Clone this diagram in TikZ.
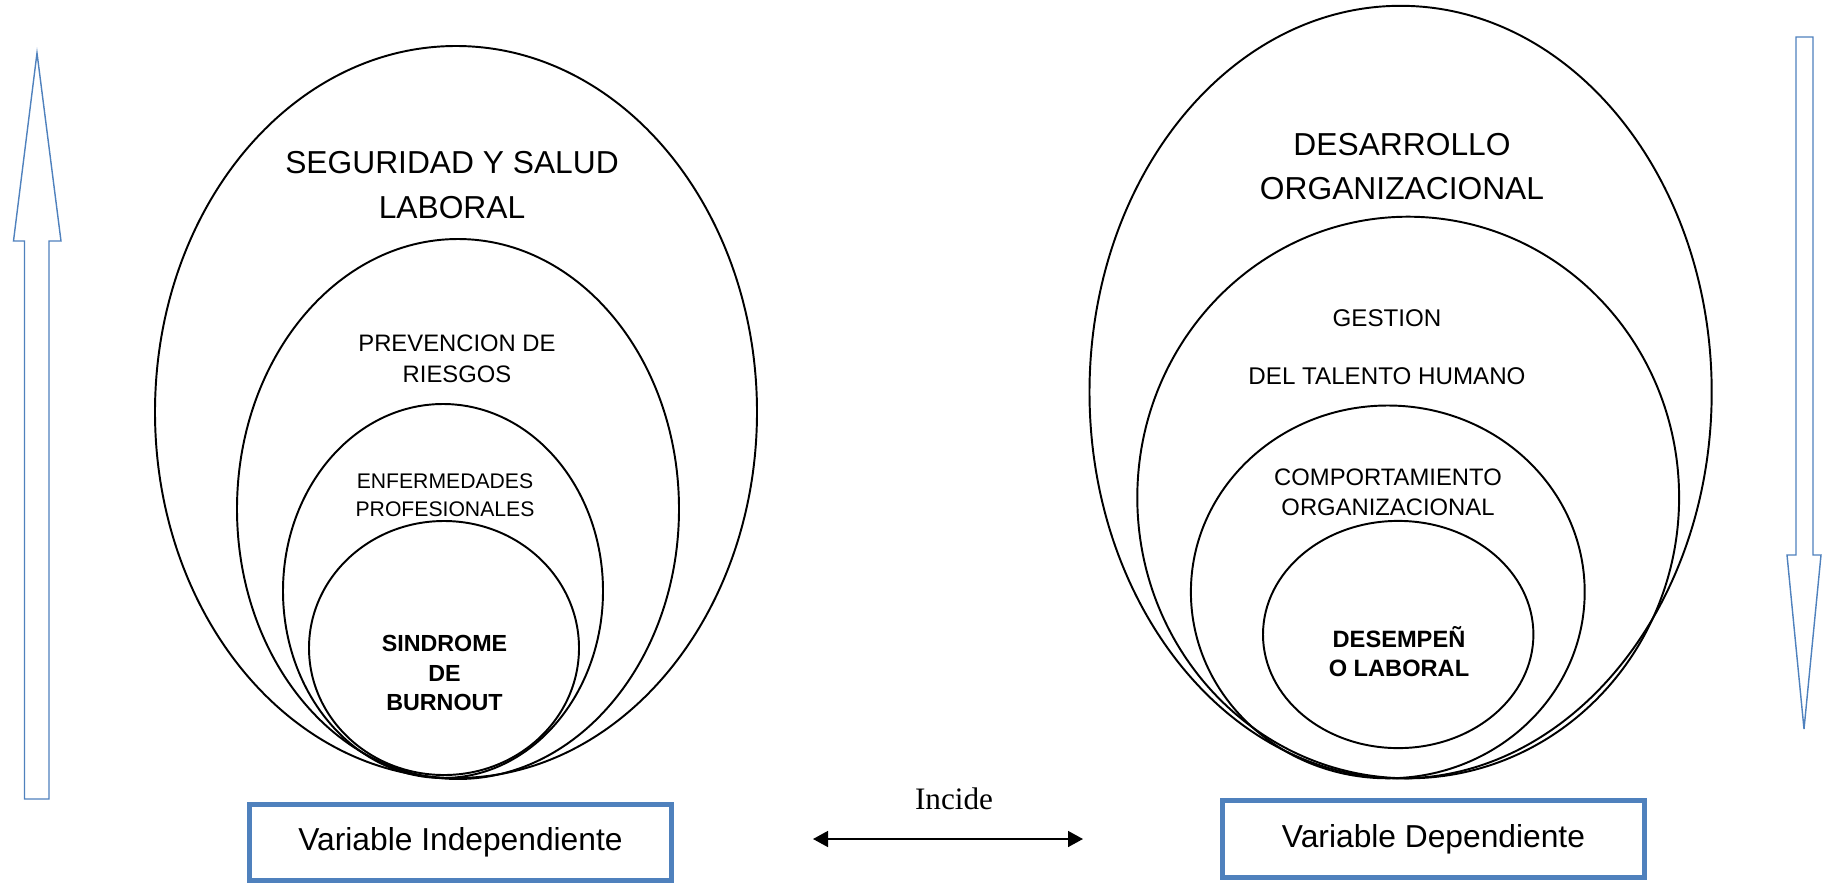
\documentclass[tikz,border=0pt]{standalone}
\usepackage{fontspec}
\setmainfont{Liberation Sans}
\newfontfamily\timesfont{Liberation Serif}
\definecolor{officeblue}{RGB}{79,129,189}
\usetikzlibrary{arrows.meta}

\begin{document}
\begin{tikzpicture}[
      x=0.5669pt, y=-0.5669pt,
      ring/.style={draw=black, line width=1.1pt},
      bigtext/.style={inner sep=0pt, align=center, font=\fontsize{18}{25.3}\selectfont},
      midtext/.style={inner sep=0pt, align=center, font=\fontsize{13.5}{17.4}\selectfont},
      smalltext/.style={inner sep=0pt, align=center, font=\fontsize{12}{16}\selectfont},
      coretext/.style={inner sep=0pt, align=center, font=\fontsize{13.2}{17.5}\selectfont\bfseries},
      varbox/.style={
          draw=officeblue,
          line width=3pt,
          minimum width=239pt,
          minimum height=43.4pt,
          inner sep=0pt,
          font=\fontsize{18}{22}\selectfont
        },
      blockarrow/.style={draw=officeblue, line width=0.8pt, fill=white},
      flow/.style={{Triangle[length=8.5pt,width=9pt]}-{Triangle[length=8.5pt,width=9pt]}, line width=1.1pt}
    ]
    \useasboundingbox (0,0) rectangle (1827,883);

    % left: independent variable
    \draw[ring] (456,412) ellipse [x radius=301, y radius=366];
    \draw[ring] (458,509) ellipse [x radius=221, y radius=270];
    \draw[ring] (443,591) ellipse [x radius=160, y radius=187];
    \draw[ring] (444,648) ellipse [x radius=135, y radius=127];

    \node[bigtext] (seguridad) at (452,185) {SEGURIDAD Y SALUD\\LABORAL};
    \node[midtext] (prevencion) at (457,358.5) {PREVENCION DE\\RIESGOS};
    \node[smalltext] (enfermedades) at (445,495.5) {ENFERMEDADES\\PROFESIONALES};
    \node[coretext, font=\fontsize{13.2}{16.6}\selectfont\bfseries] (burnout) at (444.5,673) {SINDROME\\DE\\BURNOUT};

    % right: dependent variable
    \draw[ring] (1400.6,392.1) ellipse [x radius=311.1, y radius=386.3];
    \draw[ring] (1408.2,497.5) ellipse [x radius=270.9, y radius=280.8];
    \draw[ring] (1387.8,591.9) ellipse [x radius=196.9, y radius=186.4];
    \draw[ring] (1398.2,634.5) ellipse [x radius=135.2, y radius=113.6];

    \node[bigtext] (desarrollo) at (1402,166.5) {DESARROLLO\\ORGANIZACIONAL};
    \node[midtext, font=\fontsize{13.7}{17.4}\selectfont] (gestion) at (1387,347) {GESTION\\[15.5pt]DEL TALENTO HUMANO};
    \node[midtext, font=\fontsize{13.5}{17}\selectfont] (comportamiento) at (1388,492.5) {COMPORTAMIENTO\\ORGANIZACIONAL};
    \node[coretext, font=\fontsize{13.4}{16.4}\selectfont\bfseries] (desempeno) at (1399,651.5) {DESEMPEÑ\\O LABORAL};

    % variable boxes and link
    \node[varbox] (indep) at (460.5,842.5) {Variable Independiente};
    \node[varbox] (dep) at (1433.5,839) {Variable Dependiente};

    \node[font=\timesfont\fontsize{17.7}{20}\selectfont, inner sep=0pt] (incide) at (954,799) {Incide};
    \coordinate (linkL) at (813,839);
    \coordinate (linkR) at (1083,839);
    \draw[flow] (linkL) -- (linkR);

    % block arrows
    \draw[blockarrow] (24.5,799) -- (24.5,241) -- (13.5,241) -- (37,53) -- (61,241) -- (49,241) -- (49,799) -- cycle;
    \draw[blockarrow] (1796,37) -- (1813,37) -- (1813,555) -- (1821,555) -- (1804,729) -- (1787,555) -- (1796,555) -- cycle;
  \end{tikzpicture}
\end{document}
